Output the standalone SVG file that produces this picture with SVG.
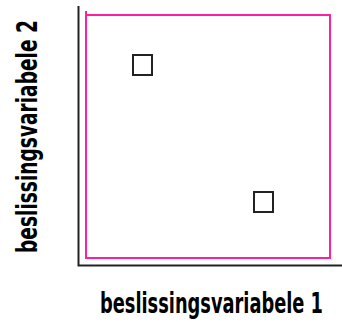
<svg xmlns="http://www.w3.org/2000/svg" width="342" height="322" viewBox="0 0 342 322">
<style>
.lbl{font-family:"DejaVu Sans Condensed","DejaVu Sans",sans-serif;font-weight:bold;font-stretch:condensed;font-size:21px;fill:#000}
.axis{stroke:#222;stroke-width:2;fill:none}
.box{fill:none;stroke:#222;stroke-width:2}
.region{fill:none;stroke:#ff1fa0;stroke-width:2}
</style>
<rect width="342" height="322" fill="#fff"/>
<g id="axes">
<path class="axis" d="M78.5,6 V265.5 H342"/>
</g>
<g id="region">
<path class="region" d="M86,11 V258 H330 V15 H86"/>
</g>
<g id="point1"><rect class="box" x="133" y="55" width="19" height="20"/></g>
<g id="point2"><rect class="box" x="254" y="192" width="19" height="20"/></g>
<g id="xlabel"><text class="lbl" transform="translate(100,313) scale(1,1.38)" x="0" y="0" textLength="223" lengthAdjust="spacingAndGlyphs">beslissingsvariabele 1</text></g>
<g id="ylabel"><text class="lbl" transform="translate(37,253) rotate(-90) scale(1,1.38)" x="0" y="0" textLength="233" lengthAdjust="spacingAndGlyphs">beslissingsvariabele  2</text></g>
</svg>
